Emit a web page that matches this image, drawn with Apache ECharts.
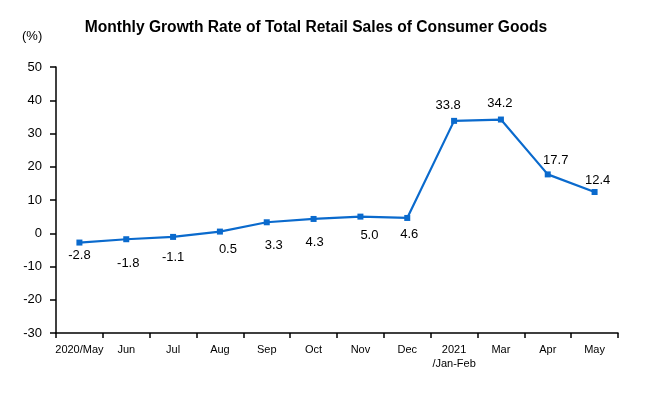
<!DOCTYPE html>
<html><head><meta charset="utf-8">
<script src="https://cdn.jsdelivr.net/npm/echarts@6/dist/echarts.min.js"></script>
<style>html,body{margin:0;padding:0;background:#fff}#c{width:648px;height:396px}</style>
</head><body><div id="c"></div>
<script>
const categories = ['2020/May','Jun','Jul','Aug','Sep','Oct','Nov','Dec','2021\n/Jan-Feb','Mar','Apr','May'];
const values = [-2.8, -1.8, -1.1, 0.5, 3.3, 4.3, 5.0, 4.6, 33.8, 34.2, 17.7, 12.4];
const yMin = -30, yMax = 50, yInterval = 10;
const labelOffsets = [[0,13],[2,24],[0,21],[8,18],[7,23],[1,23],[9,19],[2,16],[-6,-15],[-1,-16],[8,-14],[3,-12]];

const chart = echarts.init(document.getElementById('c'));
chart.setOption({
  animation: false,
  title: {
    text: 'Monthly Growth Rate of Total Retail Sales of Consumer Goods',
    left: 311, top: 15, textAlign: 'center',
    textStyle: {fontFamily: 'Liberation Sans, Arial', fontWeight: 'bold', fontSize: 15.6, color: '#000'}
  },
  graphic: [{type: 'text', left: 22, top: 30, style: {text: '(%)', font: '13px Liberation Sans, Arial', fill: '#000'}}],
  grid: {left: 56, right: 30, top: 67, bottom: 63},
  xAxis: {
    type: 'category', data: categories, boundaryGap: true,
    axisLine: {onZero: false, lineStyle: {color: '#000', width: 1.5}},
    axisTick: {show: true, length: 5, lineStyle: {color: '#000', width: 1.5}},
    axisLabel: {color: '#000', fontSize: 11, fontFamily: 'Liberation Sans Narrow, Arial Narrow, Liberation Sans', margin: 10, interval: 0, lineHeight: 14}
  },
  yAxis: {
    type: 'value', min: yMin, max: yMax, interval: yInterval,
    splitLine: {show: false},
    axisLine: {show: true, lineStyle: {color: '#000', width: 1.5}},
    axisTick: {show: true, length: 6, lineStyle: {color: '#000', width: 1.5}},
    axisLabel: {color: '#000', fontSize: 13, fontFamily: 'Liberation Sans, Arial', margin: 14}
  },
  series: [{
    type: 'line', data: values.map((v, i) => ({
      value: v,
      label: {show: true, position: 'inside', offset: labelOffsets[i]}
    })),
    symbol: 'rect', symbolSize: 6,
    lineStyle: {color: '#0A6ACD', width: 2.2},
    itemStyle: {color: '#0A6ACD'},
    label: {color: '#000', fontSize: 13, fontFamily: 'Liberation Sans, Arial', formatter: p => p.value.toFixed(1)}
  }]
});
</script></body></html>
